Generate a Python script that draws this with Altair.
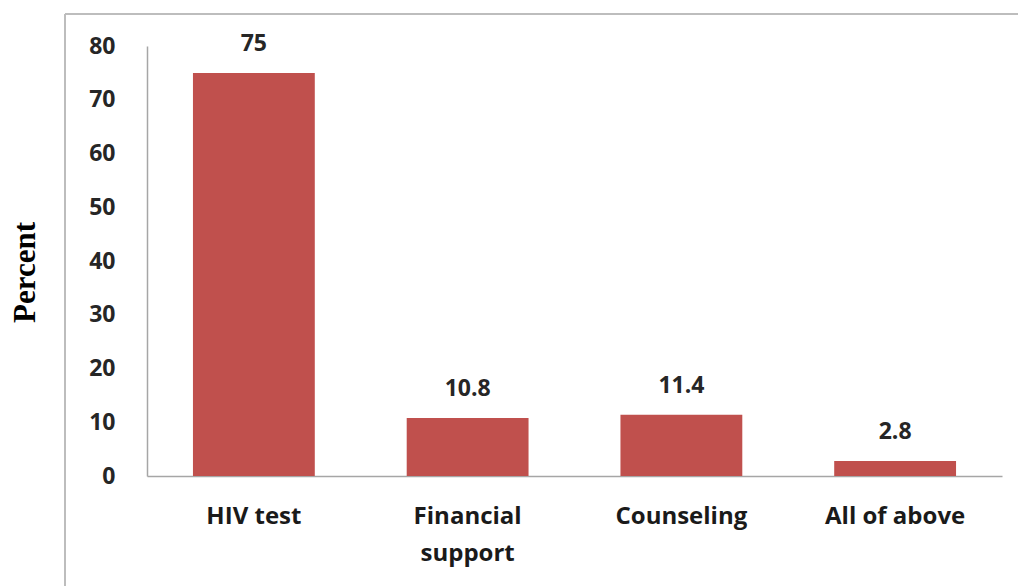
import altair as alt
import pandas as pd

categories = ["HIV test", "Financial support", "Counseling", "All of above"]
values = [75, 10.8, 11.4, 2.8]
value_labels = ["75", "10.8", "11.4", "2.8"]
y_ticks = [0, 10, 20, 30, 40, 50, 60, 70, 80]

df = pd.DataFrame({"category": categories, "value": values, "label": value_labels})

W, H = 855, 430
FONT = "Open Sans"

base = alt.Chart(df).encode(
    x=alt.X("category:N", sort=categories,
            scale=alt.Scale(paddingInner=0.43, paddingOuter=0.215),
            axis=alt.Axis(title=None, labelAngle=0, labelFont=FONT, labelFontSize=24,
                          labelFontWeight="bold", labelColor="#1a1a1a", ticks=False,
                          labelPadding=28, labelLineHeight=37, domainColor="#a6a6a6",
                          domainWidth=1.5,
                          labelExpr="datum.label == 'Financial support' ? ['Financial', 'support'] : datum.label")),
    y=alt.Y("value:Q", scale=alt.Scale(domain=[0, 80], nice=False),
            axis=alt.Axis(values=y_ticks, grid=False, ticks=False, labelFont=FONT,
                          labelFontSize=23, labelFontWeight="bold", labelColor="#262626",
                          labelPadding=32, domainColor="#a6a6a6", domainWidth=1.5,
                          title="Percent", titleFont="Liberation Serif", titleFontSize=31,
                          titleFontWeight="bold", titleColor="#000000",
                          titleX=-122, titleY=226, titleAngle=-90, titleAlign="center",
                          titleBaseline="middle")),
)

bars = base.mark_bar(color="#C0504D")
texts = base.mark_text(font=FONT, fontSize=23, fontWeight="bold", color="#262626",
                       baseline="middle", dy=-29).encode(text="label:N")

frame_top = alt.Chart(df).mark_rule(color="#bdbdbd", strokeWidth=1.5).encode(
    x=alt.value(-82), x2=alt.value(871), y=alt.value(-32))
frame_left = alt.Chart(df).mark_rule(color="#bdbdbd", strokeWidth=1.5).encode(
    x=alt.value(-82), y=alt.value(-32), y2=alt.value(545))

chart = alt.layer(bars, texts, frame_top, frame_left).properties(
    width=W, height=H,
    background="white",
    autosize=alt.AutoSizeParams(type="none"),
    padding={"left": 147, "top": 46, "right": 17, "bottom": 110},
).configure_view(strokeWidth=0)

chart.save("out.html", embed_options={"renderer": "svg", "actions": False})
